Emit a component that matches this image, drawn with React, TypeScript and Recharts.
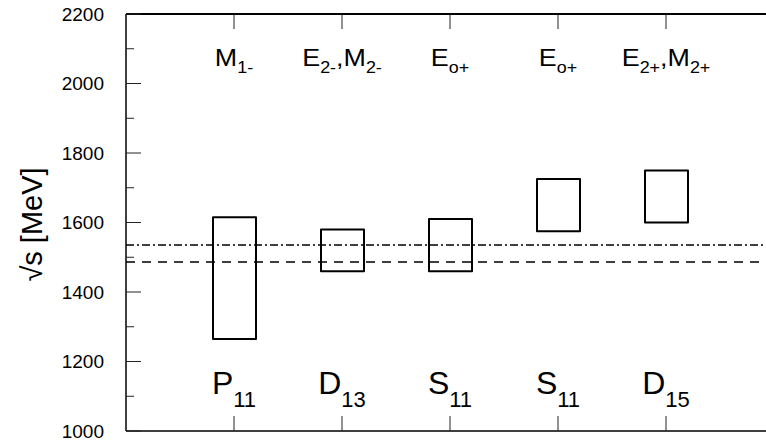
import {
  Bar, ComposedChart, ReferenceLine, XAxis, YAxis,
} from "recharts";

// partial waves (bottom labels) and their multipoles (top labels)
const resonanceX = [1, 2, 3, 4, 5];
const waveLetter = ["P", "D", "S", "S", "D"];
const waveIndex = ["11", "13", "11", "11", "15"];
const multipoleLabels: [string, string][][] = [
  [["M", "1-"]],
  [["E", "2-"], [",M", "2-"]],
  [["E", "o+"]],
  [["E", "o+"]],
  [["E", "2+"], [",M", "2+"]],
];
// mass ranges of the boxes [MeV]
const massLow = [1265, 1460, 1460, 1575, 1600];
const massHigh = [1615, 1580, 1610, 1725, 1750];
const yTicks = [1000, 1100, 1200, 1300, 1400, 1500, 1600, 1700, 1800, 1900, 2000, 2100, 2200];
const yMax = 2200;
const etaThreshold = 1486;   // dashed
const s11Mass = 1535;        // dash-dot

const FONT = "'Liberation Sans', Arial, Helvetica, sans-serif";

const data = resonanceX.map((x, i) => ({ x, range: [massLow[i], massHigh[i]] }));

function LeftTick({ x, y, payload }: any) {
  const major = payload.value % 200 === 0;
  return (
    <g>
      <line x1={x} y1={y} x2={x + (major ? 15 : 8)} y2={y} stroke="#222" strokeWidth={1} />
      {major && (
        <text x={x - 22} y={y} dy="0.36em" textAnchor="end" fontSize={19} fill="#000" fontFamily={FONT}>
          {payload.value}
        </text>
      )}
    </g>
  );
}

function RightTick({ x, y, payload }: any) {
  const major = payload.value % 200 === 0;
  return <line x1={x} y1={y} x2={x - (major ? 15 : 8)} y2={y} stroke="#222" strokeWidth={1} />;
}

function BottomTick({ x, y, payload }: any) {
  const i = resonanceX.indexOf(payload.value);
  return (
    <g>
      <line x1={x} y1={y} x2={x} y2={y - 15} stroke="#222" strokeWidth={1} />
      {i >= 0 && (
        <text x={x} y={y - 37} textAnchor="middle" fontFamily={FONT} fill="#000">
          <tspan fontSize={32}>{waveLetter[i]}</tspan>
          <tspan fontSize={22} dy={13}>{waveIndex[i]}</tspan>
        </text>
      )}
    </g>
  );
}

function TopTick({ x, y, payload }: any) {
  const i = resonanceX.indexOf(payload.value);
  return (
    <g>
      <line x1={x} y1={y} x2={x} y2={y + 15} stroke="#222" strokeWidth={1} />
      {i >= 0 && (
        // the original font is a bit wider than Arial
        <text x={0} y={0} transform={`translate(${x} ${y + 52}) scale(1.12 1)`}
              textAnchor="middle" fontFamily={FONT} fill="#000">
          {multipoleLabels[i].flatMap(([main, sub], k) => [
            <tspan key={`m${k}`} fontSize={24} dy={k === 0 ? 0 : -7}>{main}</tspan>,
            <tspan key={`s${k}`} fontSize={16} dy={7}>{sub}</tspan>,
          ])}
        </text>
      )}
    </g>
  );
}

function YLabel({ viewBox }: any) {
  const cx = viewBox.x - 34;
  const cy = viewBox.y + viewBox.height / 2 + 2;
  return (
    <text x={cx} y={cy} dy="0.35em" textAnchor="middle" fontSize={29} fontFamily={FONT}
          transform={`rotate(-90, ${cx}, ${cy})`} fill="#000">
      √s [MeV]
    </text>
  );
}

export default function App() {
  return (
    <div style={{
      position: "absolute", left: 0, top: 0, width: 766, height: 441,
      overflow: "hidden", background: "#fff", fontFamily: FONT,
    }}>
      <ComposedChart width={780} height={441} data={data}
                     margin={{ top: 13, right: 5, bottom: 9, left: 66 }}>
        <XAxis xAxisId="bottom" dataKey="x" type="number" domain={[0, 6]} ticks={resonanceX}
               interval={0} height={1} tickSize={0} tickMargin={0} tickLine={false}
               axisLine={{ stroke: "#000", strokeWidth: 1.5 }} tick={<BottomTick />} />
        <XAxis xAxisId="top" orientation="top" dataKey="x" type="number" domain={[0, 6]}
               ticks={resonanceX} interval={0} height={1} tickSize={0} tickMargin={0}
               tickLine={false} axisLine={{ stroke: "#000", strokeWidth: 2 }} tick={<TopTick />} />
        <YAxis yAxisId="left" type="number" domain={[1000, yMax]} ticks={yTicks} interval={0}
               width={60} tickSize={0} tickMargin={0} tickLine={false}
               axisLine={{ stroke: "#000", strokeWidth: 1.5 }} tick={<LeftTick />}
               label={<YLabel />} />
        <YAxis yAxisId="right" orientation="right" type="number" domain={[1000, yMax]}
               ticks={yTicks} interval={0} width={1} tickSize={0} tickMargin={0} tickLine={false}
               axisLine={{ stroke: "#000", strokeWidth: 1.5 }} tick={<RightTick />} />
        {/* top edge of the frame, drawn again above the plot clip */}
        <ReferenceLine xAxisId="bottom" yAxisId="left" y={yMax} stroke="#111"
                       strokeWidth={2} ifOverflow="visible" />
        <ReferenceLine xAxisId="bottom" yAxisId="left" y={s11Mass} stroke="#000"
                       strokeWidth={1.5} strokeDasharray="8 3 2 3" />
        <ReferenceLine xAxisId="bottom" yAxisId="left" y={etaThreshold} stroke="#000"
                       strokeWidth={1.5} strokeDasharray="9 7" />
        <Bar xAxisId="bottom" yAxisId="left" dataKey="range" barSize={43} fill="none"
             stroke="#000" strokeWidth={2} strokeLinejoin="round" isAnimationActive={false} />
      </ComposedChart>
    </div>
  );
}
